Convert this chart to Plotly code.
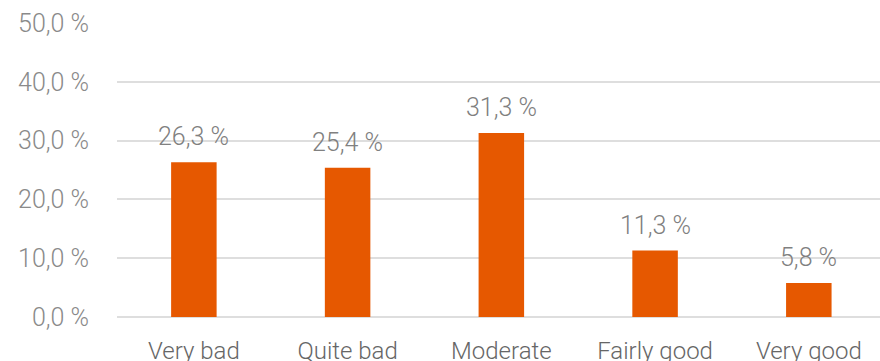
import plotly.graph_objects as go

categories = ["Very bad", "Quite bad", "Moderate", "Fairly good", "Very good"]
values = [26.3, 25.4, 31.3, 11.3, 5.8]
value_labels = ["26,3 %", "25,4 %", "31,3 %", "11,3 %", "5,8 %"]
y_ticks = [0, 10, 20, 30, 40, 50]
y_tick_labels = ["0,0 %", "10,0 %", "20,0 %", "30,0 %", "40,0 %", "50,0 %"]

FONT = "Roboto"
fig = go.Figure(go.Bar(x=categories, y=values, marker=dict(color="#E65800", line=dict(width=0))))

for c, v, t in zip(categories, values, value_labels):
    fig.add_annotation(x=c, y=v, text=t, showarrow=False, yanchor="bottom", yshift=9,
                       font=dict(family=FONT, size=25, color="#808080", weight=300))

fig.update_layout(
    width=880, height=361,
    margin=dict(l=117, r=0, t=23, b=44),
    paper_bgcolor="white", plot_bgcolor="white",
    bargap=0.704,
    showlegend=False,
    xaxis=dict(range=[-0.5, 4.463], showgrid=False, showline=False, ticks="outside",
               ticklen=12, tickcolor="rgba(0,0,0,0)", automargin=False,
               tickfont=dict(family=FONT, size=24, color="#666666", weight=300)),
    yaxis=dict(range=[0, 50], tickvals=y_ticks, ticktext=y_tick_labels, showgrid=True,
               gridcolor="#dedede", gridwidth=2, zeroline=True, zerolinecolor="#dedede",
               zerolinewidth=2, ticks="outside", ticklen=22, tickcolor="rgba(0,0,0,0)",
               automargin=False,
               tickfont=dict(family=FONT, size=25, color="#8a8a8a", weight=300)),
)
fig.write_html("out.html")
